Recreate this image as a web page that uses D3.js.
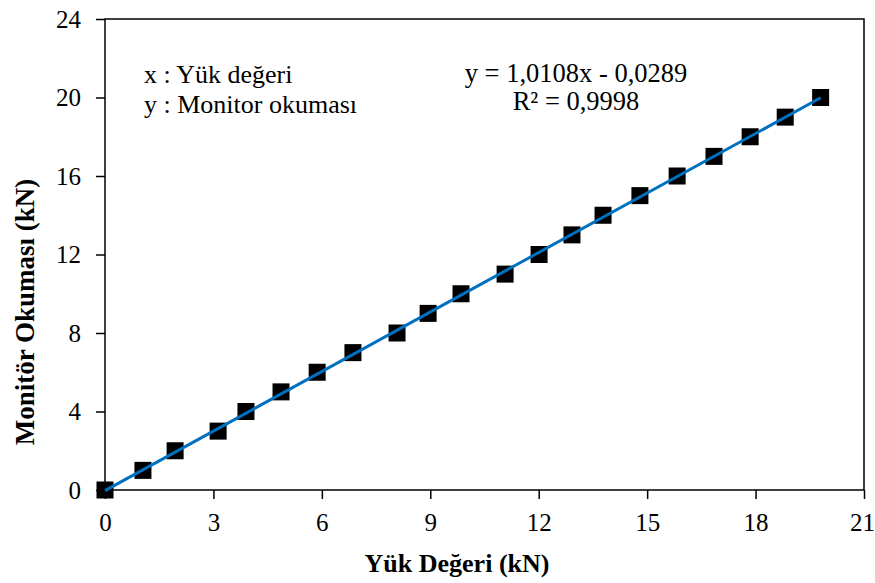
<!DOCTYPE html>
<html>
<head>
<meta charset="utf-8">
<script src="https://cdn.jsdelivr.net/npm/d3@7"></script>
<style>
  body { margin: 0; background: #fff; }
  svg text { font-family: "Liberation Serif", "Times New Roman", serif; fill: #000; }
</style>
</head>
<body>
<svg id="chart"></svg>
<script>
// load values (x) and monitor readings (y)
var loadValues = [0, 1.05, 1.94, 3.13, 3.90, 4.87, 5.87, 6.86, 8.08, 8.94, 9.85,
                  11.07, 12.01, 12.92, 13.78, 14.80, 15.83, 16.85, 17.85, 18.82, 19.80];
var monitorValues = [0, 1, 2, 3, 4, 5, 6, 7, 8, 9, 10,
                     11, 12, 13, 14, 15, 16, 17, 18, 19, 20];
var xTicks = [0, 3, 6, 9, 12, 15, 18, 21],
    yTicks = [0, 4, 8, 12, 16, 20, 24];
var slope = 1.0108, intercept = -0.0289;
var notes = ["x : Yük değeri", "y : Monitor okuması"],
    fitText = ["y = 1,0108x - 0,0289", "R² = 0,9998"];

var width = 875, height = 583,
    margin = {top: 19, right: 11, bottom: 93, left: 105},
    innerWidth = width - margin.left - margin.right,
    innerHeight = height - margin.top - margin.bottom;

var serif = "'Liberation Serif', 'Times New Roman', serif";

var xScale = d3.scaleLinear().domain([0, 21]).range([0, innerWidth]),
    yScale = d3.scaleLinear().domain([0, 24]).range([innerHeight, 0]);

var svg = d3.select("#chart")
    .attr("width", width)
    .attr("height", height);

var g = svg.append("g")
    .attr("transform", "translate(" + margin.left + "," + margin.top + ")");

// frame
g.append("rect")
  .attr("width", innerWidth)
  .attr("height", innerHeight)
  .attr("fill", "none")
  .attr("stroke", "#000")
  .attr("stroke-width", 1.5);

var xAxis = d3.axisBottom(xScale).tickValues(xTicks).tickSize(9).tickPadding(14).tickFormat(d3.format("d")),
    yAxis = d3.axisLeft(yScale).tickValues(yTicks).tickSize(9).tickPadding(15).tickFormat(d3.format("d"));

g.append("g")
  .attr("class", "axis axis-x")
  .attr("transform", "translate(0," + innerHeight + ")")
  .call(xAxis);

g.append("g")
  .attr("class", "axis axis-y")
  .call(yAxis);

g.selectAll(".axis").attr("font-family", null).attr("font-size", null);
g.selectAll(".axis .domain").remove();
g.selectAll(".axis line").attr("stroke", "#000").attr("stroke-width", 1.5);
g.selectAll(".axis text")
  .style("font-family", serif)
  .style("font-size", "25px")
  .attr("fill", "#000");
// keep the last x label inside the page
g.selectAll(".axis-x .tick:last-of-type text").attr("dx", "-2");

// axis titles
svg.append("text")
  .attr("x", 457)
  .attr("y", 572)
  .attr("text-anchor", "middle")
  .style("font-family", serif)
  .style("font-size", "26px")
  .style("font-weight", "bold")
  .text("Yük Değeri (kN)");

svg.append("text")
  .attr("transform", "translate(34,312) rotate(-90)")
  .attr("text-anchor", "middle")
  .style("font-family", serif)
  .style("font-size", "27px")
  .style("font-weight", "bold")
  .text("Monitör Okuması (kN)");

// trend line over the data range
var xExt = d3.extent(loadValues);

// markers
var size = 17;
g.selectAll(".pt")
  .data(loadValues)
  .enter().append("rect")
    .attr("class", "pt")
    .attr("x", function(d) { return xScale(d) - size / 2; })
    .attr("y", function(d, i) { return yScale(monitorValues[i]) - size / 2; })
    .attr("width", size)
    .attr("height", size)
    .attr("fill", "#000");

g.append("line")
  .attr("x1", xScale(xExt[0]))
  .attr("y1", yScale(slope * xExt[0] + intercept))
  .attr("x2", xScale(xExt[1]))
  .attr("y2", yScale(slope * xExt[1] + intercept))
  .attr("stroke", "#0070C0")
  .attr("stroke-width", 3);

// notes
svg.selectAll(".note")
  .data(notes)
  .enter().append("text")
    .attr("class", "note")
    .attr("x", 144)
    .attr("y", function(d, i) { return 83 + i * 30; })
    .style("font-family", serif)
    .style("font-size", "26px")
    .text(function(d) { return d; });

svg.selectAll(".fit")
  .data(fitText)
  .enter().append("text")
    .attr("class", "fit")
    .attr("x", 576)
    .attr("y", function(d, i) { return 82 + i * 28; })
    .attr("text-anchor", "middle")
    .style("font-family", serif)
    .style("font-size", "26.5px")
    .text(function(d) { return d; });
</script>
</body>
</html>
